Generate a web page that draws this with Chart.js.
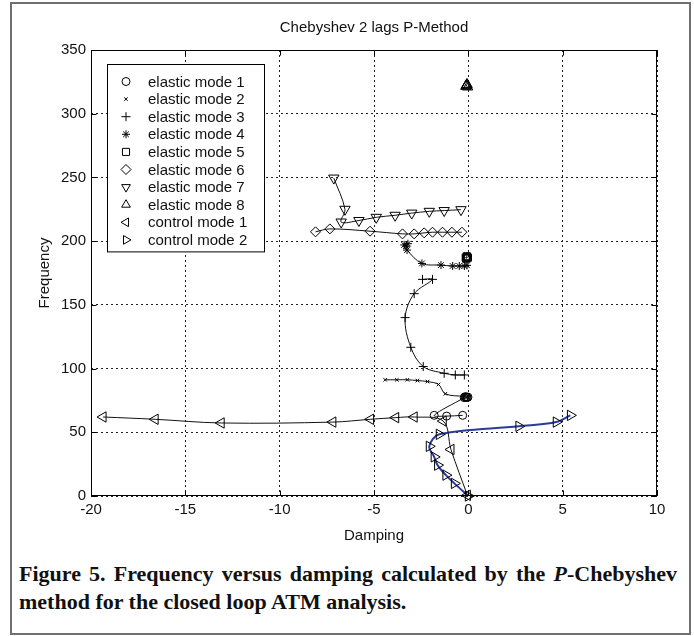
<!DOCTYPE html>
<html>
<head>
<meta charset="utf-8">
<script src="https://cdn.jsdelivr.net/npm/chart.js"></script>
<style>
body { margin: 0; background: #fff; }
#frame { position: absolute; left: 10px; top: 2px; width: 681px; height: 633px; border: 2px solid #707070; box-sizing: border-box; }
#chart { position: absolute; left: 0; top: 0; }
#caption { position: absolute; left: 19px; top: 560px; width: 658px; font: bold 22px "Liberation Serif", "Times New Roman", serif; line-height: 28px; text-align: justify; color: #111; }
</style>
</head>
<body>
<div id="frame"></div>
<canvas id="chart" width="694" height="550"></canvas>
<div id="caption">Figure 5. Frequency versus damping calculated by the <i>P</i>-Chebyshev method for the closed loop ATM analysis.</div>
<script>
// series: damping (x) and frequency (y)
const seriesLabels = ['elastic mode 1', 'elastic mode 2', 'elastic mode 3', 'elastic mode 4', 'elastic mode 5',
  'elastic mode 6', 'elastic mode 7', 'elastic mode 8', 'control mode 1', 'control mode 2'];

const mode1Damping = [-0.3, -1.15, -1.81, -0.22, -0.18, -0.14, -0.1, -0.06, -0.02];
const mode1Freq = [63.3, 62.7, 63.3, 77.2, 77.9, 77.4, 77.8, 77.3, 77.6];

const mode2Damping = [-0.04, -0.12, -0.2, -1.22, -1.58, -2.16, -2.7, -3.23, -3.79, -4.41];
const mode2Freq = [77.8, 77.4, 78, 80.2, 87.5, 89.8, 90.6, 91.2, 91.2, 91.2];

const mode3Damping = [-0.21, -0.69, -1.28, -2.39, -3.05, -3.35, -2.87, -1.9, -2.43];
const mode3Freq = [95, 95, 96.3, 101.6, 116.7, 140, 158.8, 170, 170];

const mode4Damping = [-0.07, -0.21, -0.48, -0.83, -1.45, -2.46, -3.25, -3.3, -3.2, -3.4];
const mode4Freq = [181, 180.5, 180.5, 180.5, 181.2, 182.5, 193, 196, 198, 197];

const mode5Damping = [-0.02, -0.06, -0.1, -0.14, -0.08, -0.12];
const mode5Freq = [187, 187.6, 186.6, 187.2, 188.2, 186.2];

const mode6Damping = [-0.34, -0.87, -1.37, -1.9, -2.34, -2.87, -3.49, -5.21, -7.34, -8.1];
const mode6Freq = [207, 207, 207, 207, 206.5, 205.7, 205.7, 207.8, 209.6, 207.3];

const mode7Damping = [-0.39, -1.28, -2.07, -3.0, -3.88, -4.88, -5.8, -6.74, -6.54, -7.13];
const mode7Freq = [224.7, 224, 223.4, 222, 220.3, 218.7, 216.2, 215, 225, 249.5];

const mode8Damping = [-0.04, -0.1, -0.07, -0.13, -0.08];
const mode8Freq = [321, 322, 323, 321.5, 322.5];

const control1Damping = [-0.05, -0.92, -1.33, -2.87, -3.85, -5.18, -7.18, -13.1, -16.6, -19.36];
const control1Freq = [0.5, 36.5, 58.8, 62, 61.5, 60.2, 58, 57.3, 60.2, 62];

const control2Damping = [0, -0.74, -1.19, -1.63, -1.81, -2.07, -1.54, 2.68, 4.66, 5.41];
const control2Freq = [0, 9.9, 16.4, 24.2, 30.7, 39, 48.4, 54.7, 58, 63.3];

const dampingSets = [mode1Damping, mode2Damping, mode3Damping, mode4Damping, mode5Damping,
  mode6Damping, mode7Damping, mode8Damping, control1Damping, control2Damping];
const freqSets = [mode1Freq, mode2Freq, mode3Freq, mode4Freq, mode5Freq,
  mode6Freq, mode7Freq, mode8Freq, control1Freq, control2Freq];

const markers = [
  {style: 'circle', rot: 0, r: 4},
  {style: 'crossRot', rot: 0, r: 2.5},
  {style: 'cross', rot: 0, r: 4.5},
  {style: 'star', rot: 0, r: 4},
  {style: 'rect', rot: 0, r: 5},
  {style: 'rectRot', rot: 0, r: 5},
  {style: 'triangle', rot: 180, r: 6},
  {style: 'triangle', rot: 0, r: 6},
  {style: 'triangle', rot: -90, r: 6},
  {style: 'triangle', rot: 90, r: 6}
];

const FONT = '"Liberation Sans", Arial, Helvetica, sans-serif';

const datasets = seriesLabels.map((label, i) => ({
  label: label,
  data: dampingSets[i].map((x, j) => ({x: x, y: freqSets[i][j]})),
  showLine: true,
  borderColor: i === 9 ? '#2a3b9c' : '#111',
  borderWidth: i === 9 ? 2 : 1,
  tension: 0.35,
  clip: false,
  pointStyle: markers[i].style,
  pointRotation: markers[i].rot,
  pointRadius: markers[i].r,
  pointBorderColor: '#000',
  pointBackgroundColor: 'rgba(0,0,0,0)',
  pointBorderWidth: 1
}));

// MATLAB-like box with inward ticks
const axesBox = {
  id: 'axesBox',
  afterDatasetsDraw(chart) {
    const {ctx, chartArea: a, scales} = chart;
    const l = Math.round(a.left) + 0.5, r = Math.round(a.right) - 0.5;
    const t = Math.round(a.top) + 0.5, b = Math.round(a.bottom) - 0.5;
    ctx.save();
    ctx.strokeStyle = '#000';
    ctx.lineWidth = 1;
    ctx.strokeRect(l, t, r - l, b - t);
    ctx.beginPath();
    scales.x.ticks.forEach(tk => {
      const px = Math.round(scales.x.getPixelForValue(tk.value)) + 0.5;
      ctx.moveTo(px, b); ctx.lineTo(px, b - 5);
      ctx.moveTo(px, t); ctx.lineTo(px, t + 5);
    });
    scales.y.ticks.forEach(tk => {
      const py = Math.round(scales.y.getPixelForValue(tk.value)) + 0.5;
      ctx.moveTo(l, py); ctx.lineTo(l + 5, py);
      ctx.moveTo(r, py); ctx.lineTo(r - 5, py);
    });
    ctx.stroke();
    ctx.restore();
  }
};

// boxed legend inside the plot, upper left
const boxLegend = {
  id: 'boxLegend',
  afterDraw(chart) {
    const ctx = chart.ctx;
    const x0 = 107.5, y0 = 64.5, w = 157, rowH = 17.6, firstRow = 81.5;
    const h = firstRow - y0 + rowH * (seriesLabels.length - 1) + 12;
    ctx.save();
    ctx.fillStyle = '#fff';
    ctx.fillRect(x0, y0, w, h);
    ctx.strokeStyle = '#000';
    ctx.lineWidth = 1;
    ctx.strokeRect(x0, y0, w, h);
    ctx.font = '15px ' + FONT;
    ctx.textBaseline = 'middle';
    seriesLabels.forEach((label, i) => {
      const y = firstRow + i * rowH;
      ctx.strokeStyle = '#000';
      ctx.fillStyle = 'rgba(0,0,0,0)';
      ctx.lineWidth = 1;
      Chart.helpers.drawPoint(ctx, {pointStyle: markers[i].style, rotation: markers[i].rot,
        radius: Math.min(markers[i].r, 5), borderWidth: 1}, 126, y);
      ctx.fillStyle = '#111';
      ctx.fillText(label, 148, y + 1);
    });
    ctx.restore();
  }
};

new Chart(document.getElementById('chart'), {
  type: 'scatter',
  data: {datasets: datasets},
  options: {
    responsive: false,
    animation: false,
    devicePixelRatio: 1,
    layout: {padding: {top: 0, right: 37, bottom: 0, left: 0}},
    plugins: {
      legend: {display: false},
      tooltip: {enabled: false},
      title: {
        display: true,
        text: 'Chebyshev 2 lags P-Method',
        fullSize: false,
        color: '#111',
        font: {family: FONT, size: 15, weight: 'normal'},
        padding: {top: 19, bottom: 13}
      }
    },
    scales: {
      x: {
        type: 'linear',
        min: -20,
        max: 10,
        ticks: {stepSize: 5, color: '#111', padding: 5, maxRotation: 0, font: {family: FONT, size: 15}},
        grid: {color: '#222', lineWidth: 1, drawTicks: false},
        border: {display: false, dash: [2, 3]},
        title: {display: true, text: 'Damping', color: '#111', font: {family: FONT, size: 15}, padding: {top: 0, bottom: 5}},
        afterFit: s => { s.height = 54; }
      },
      y: {
        type: 'linear',
        min: 0,
        max: 350,
        ticks: {stepSize: 50, color: '#111', padding: 5, font: {family: FONT, size: 15}},
        grid: {color: '#222', lineWidth: 1, drawTicks: false},
        border: {display: false, dash: [2, 3]},
        title: {display: true, text: 'Frequency', color: '#111', font: {family: FONT, size: 15}, padding: {top: 36, bottom: 0}},
        afterFit: s => { s.width = 91; }
      }
    }
  },
  plugins: [axesBox, boxLegend]
});
</script>
</body>
</html>
